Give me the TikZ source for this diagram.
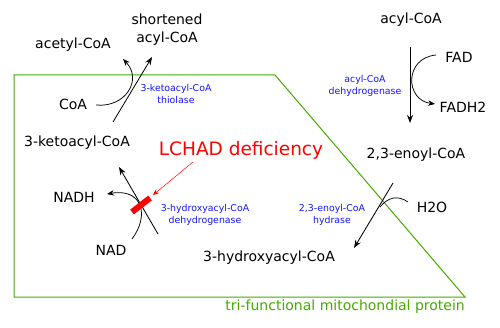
\documentclass[tikz,border=0pt]{standalone}
\usepackage{fontspec}
\setmainfont{DejaVu Sans}
\usetikzlibrary{arrows.meta}

\definecolor{protgreen}{RGB}{68,170,0}
\definecolor{enzblue}{RGB}{20,20,255}

\tikzset{
    chem/.style={font=\fontsize{14}{18}\selectfont, align=center, inner sep=0pt},
    enzyme/.style={text=enzblue, font=\fontsize{9.4}{11.5}\selectfont, align=center, inner sep=0pt},
    rxn/.style={draw, line width=0.85pt, -{Stealth[length=8pt, width=6pt]}},
    side/.style={draw, line width=0.75pt}
}

\begin{document}
\begin{tikzpicture}[x=1pt, y=-1pt]
    \useasboundingbox (0,0) rectangle (500,328);

    % protein
    \draw[protgreen, line width=1pt] (14,75) -- (275,75) -- (465,297) -- (14,297) -- cycle;
    \node (protein) [text=protgreen, font=\fontsize{14}{18}\selectfont, anchor=east, inner sep=0pt] at (465,307) {tri-functional mitochondial protein};

    % metabolites
    \node (acylcoa) [chem] at (411,20) {acyl-CoA};
    \node (enoyl) [chem] at (416,155) {2,3-enoyl-CoA};
    \node (hydroxy) [chem] at (269,258) {3-hydroxyacyl-CoA};
    \node (keto) [chem] at (77,143) {3-ketoacyl-CoA};
    \node (shortened) [chem] at (167,30) {shortened\\acyl-CoA};
    \node (acetyl) [chem] at (73,45) {acetyl-CoA};
    \node (fad) [chem] at (459,57) {FAD};
    \node (fadh) [chem] at (463,107) {FADH2};
    \node (water) [chem] at (432,207) {H2O};
    \node (nad) [chem] at (111,250) {NAD};
    \node (nadh) [chem] at (74,197) {NADH};
    \node (coa) [chem] at (73,104) {CoA};

    % enzymes
    \node (acd) [enzyme] at (365,86) {acyl-CoA\\dehydrogenase};
    \node (ech) [enzyme] at (332,215) {2,3-enoyl-CoA\\hydrase};
    \node (hadh) [enzyme] at (205,215) {3-hydroxyacyl-CoA\\dehydrogenase};
    \node (kat) [enzyme] at (176,94) {3-ketoacyl-CoA\\thiolase};
    \node (lchad) [text=red, font=\fontsize{18.5}{22}\selectfont, inner sep=0pt] at (241,150) {LCHAD deficiency};

    % reaction arrows
    \coordinate (s1) at (410,47);  \coordinate (e1) at (410,123);
    \coordinate (s2) at (393,183); \coordinate (e2) at (354,248);
    \coordinate (s3) at (158,234); \coordinate (e3) at (119,167);
    \coordinate (s4) at (113,122); \coordinate (e4) at (152,57);
    \draw[rxn] (s1) -- (e1);
    \draw[rxn] (s2) -- (e2);
    \draw[rxn] (s3) -- (e3);
    \draw[rxn] (s4) -- (e4);

    % cofactors
    \coordinate (fadin) at (436,55);  \coordinate (fadout) at (435,104);
    \coordinate (h2oin) at (408,202); \coordinate (h2oend) at (380,207);
    \coordinate (nadin) at (132,239); \coordinate (nadout) at (107,194);
    \coordinate (coain) at (96,105);  \coordinate (coaout) at (123,59);
    \draw[side, -{Stealth[length=7pt, width=5.5pt]}] (fadin) .. controls (404,58) and (405,100) .. (fadout);
    \draw[side] (h2oin) .. controls (398,195) and (388,197) .. (h2oend);
    \draw[side, -{Stealth[length=7pt, width=5.5pt]}] (nadin) .. controls (150,215) and (142,188) .. (nadout);
    \draw[side, -{Stealth[length=7pt, width=5.5pt]}] (coain) .. controls (125,108) and (143,80) .. (coaout);

    % defect
    \coordinate (bara) at (132,212); \coordinate (barb) at (150,198);
    \coordinate (defstart) at (193,162); \coordinate (defend) at (153,195);
    \draw[red, line width=6pt] (bara) -- (barb);
    \draw[red, line width=0.5pt, -{Stealth[length=6pt, width=5pt]}] (defstart) -- (defend);
\end{tikzpicture}
\end{document}
